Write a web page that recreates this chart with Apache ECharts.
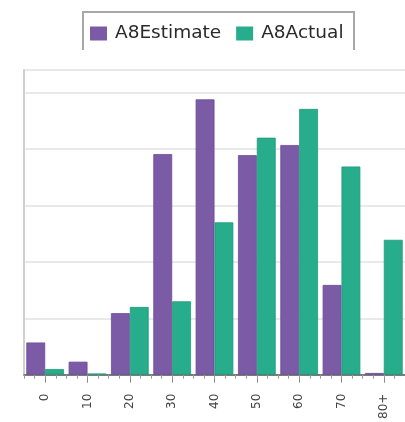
<!DOCTYPE html>
<html>
<head>
<meta charset="utf-8">
<script src="https://cdn.jsdelivr.net/npm/echarts@6/dist/echarts.min.js"></script>
<style>
html,body{margin:0;padding:0;background:#fff;}
#c{width:405px;height:422px;}
</style>
</head>
<body>
<div id="c"></div>
<script>
var categories = ['0', '10', '20', '30', '40', '50', '60', '70', '80+'];
var estimate = [5.7, 2.3, 10.9, 39.1, 48.8, 38.9, 40.7, 15.9, 0.3];
var actual = [1.0, 0.2, 12.0, 13.0, 27.0, 42.0, 47.1, 36.9, 23.9];
var seriesNames = ['A8Estimate', 'A8Actual'];

var chart = echarts.init(document.getElementById('c'));
chart.setOption({
  animation: false,
  backgroundColor: '#fff',
  color: ['#7B5AA6', '#27AD8B'],
  legend: {
    data: seriesNames,
    left: 85,
    top: 19,
    itemWidth: 17,
    itemHeight: 14,
    itemGap: 15,
    icon: 'rect',
    itemStyle: { borderWidth: 0 },
    textStyle: { fontFamily: 'DejaVu Sans', fontSize: 18.5, color: '#2a2a2a', padding: [0, 0, 0, 3] }
  },
  graphic: [{
    type: 'polyline',
    shape: { points: [[83, 50], [83, 12], [354, 12], [354, 50]] },
    style: { stroke: '#a8a8a8', lineWidth: 2, fill: null }
  }],
  grid: { left: 24, right: -8, top: 70, bottom: 46 },
  xAxis: [{
    type: 'category',
    data: categories,
    axisLine: { show: true, lineStyle: { color: '#555', width: 1.5 } },
    axisTick: { show: true, alignWithLabel: true, length: 8, lineStyle: { color: '#888', width: 1 } },
    axisLabel: { rotate: 90, margin: 19, fontFamily: 'DejaVu Sans', fontSize: 12, color: '#444' }
  }, {
    type: 'value',
    position: 'bottom',
    min: 0,
    max: 9,
    interval: 0.25,
    axisLine: { show: false },
    axisTick: { show: true, length: 4, lineStyle: { color: '#999', width: 1 } },
    axisLabel: { show: false },
    splitLine: { show: false }
  }],
  yAxis: {
    type: 'value',
    min: 0,
    max: 54,
    interval: 10,
    axisLine: { show: true, lineStyle: { color: '#d0d0d0', width: 2 } },
    axisTick: { show: false },
    axisLabel: { show: false },
    splitLine: { show: true, lineStyle: { color: '#e2e2e2', width: 1.5 } }
  },
  series: [{
    name: seriesNames[0],
    type: 'bar',
    xAxisIndex: 0,
    data: estimate,
    barGap: '0%',
    barCategoryGap: '11%',
    itemStyle: { borderColor: '#6c4c98', borderWidth: 0.8 }
  }, {
    name: seriesNames[1],
    type: 'bar',
    xAxisIndex: 0,
    data: actual,
    barGap: '0%',
    barCategoryGap: '11%',
    itemStyle: { borderColor: '#1f9a7b', borderWidth: 0.8 }
  }]
});
</script>
</body>
</html>
